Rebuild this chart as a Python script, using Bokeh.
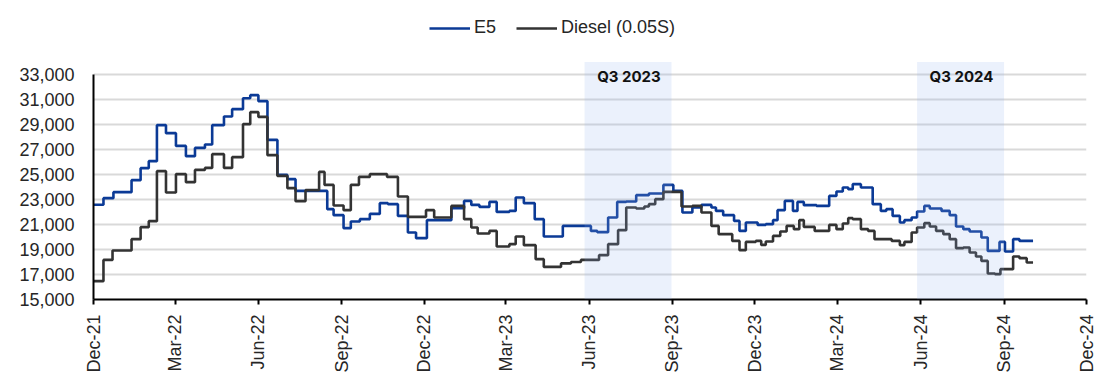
import math
import pandas as pd
from bokeh.plotting import figure
from bokeh.models import (BoxAnnotation, Label, Legend, LegendItem, FixedTicker,
                          DatetimeTickFormatter, NumeralTickFormatter, Range1d)
from bokeh.embed import file_html
from bokeh.resources import INLINE

# ---------------- data ----------------
e5_dates = ["2021-12-01", "2021-12-12", "2021-12-23",
            "2022-01-12", "2022-01-22", "2022-01-31", "2022-02-09", "2022-02-19", "2022-03-02",
            "2022-03-13", "2022-03-23", "2022-04-03", "2022-04-11", "2022-04-24", "2022-05-03",
            "2022-05-15", "2022-05-23", "2022-06-01", "2022-06-11", "2022-06-22", "2022-07-03",
            "2022-07-12", "2022-08-16", "2022-08-23", "2022-09-03", "2022-09-11", "2022-09-21",
            "2022-10-02", "2022-10-13", "2022-10-22", "2022-11-02", "2022-11-13", "2022-11-22",
            "2022-12-04", "2022-12-31",
            "2023-01-14", "2023-01-22", "2023-01-31", "2023-02-11", "2023-02-19", "2023-03-05",
            "2023-03-12", "2023-03-21", "2023-04-02", "2023-04-12", "2023-05-03", "2023-06-03",
            "2023-06-10", "2023-06-22", "2023-07-02", "2023-07-12", "2023-07-23", "2023-08-06",
            "2023-08-22", "2023-09-02", "2023-09-12", "2023-09-23", "2023-10-03", "2023-10-14",
            "2023-10-19", "2023-10-27", "2023-11-08", "2023-11-14", "2023-11-21", "2023-12-04",
            "2023-12-13", "2023-12-21", "2023-12-26",
            "2024-01-03", "2024-01-12", "2024-01-17", "2024-01-24", "2024-02-07", "2024-02-21",
            "2024-02-29", "2024-03-07", "2024-03-13", "2024-03-18", "2024-03-27", "2024-04-09",
            "2024-04-18", "2024-04-24", "2024-05-01", "2024-05-09", "2024-05-14", "2024-05-22",
            "2024-05-28", "2024-06-05", "2024-06-11", "2024-06-24", "2024-07-03", "2024-07-10",
            "2024-07-18", "2024-07-25", "2024-08-07", "2024-08-14", "2024-08-27", "2024-09-02",
            "2024-09-11", "2024-09-18", "2024-10-03"]
e5_values = [22580, 23110, 23590,
             24550, 25510, 26070, 28950, 28310, 27290,
             26470, 27130, 27400, 28950, 29640, 30230,
             31100, 31350, 30870, 27770, 24970, 24630,
             23690, 22230, 21750, 20710, 21240, 21430,
             21850, 22710, 22630, 21690, 20360, 19910,
             21350, 22310,
             22890, 22570, 22410, 22810, 22010, 22090,
             23160, 22710, 21430, 20040, 20890, 20490,
             20390, 21560, 22810, 22840, 23350, 23480,
             24170, 23690, 21960, 22360, 22570, 22360,
             22090, 21750, 21290, 20490, 21160, 20970,
             21030, 21350, 22150,
             22890, 22090, 22810, 22550, 22490, 23290,
             23640, 23960, 23830, 24230, 23960, 22630,
             22090, 22230, 21690, 21160, 21350, 21560,
             22040, 22490, 22280, 22090, 21750, 20840,
             20630, 20440, 19960, 18890, 19610, 18840,
             19830, 19690, 19690]

diesel_dates = ["2021-12-01", "2021-12-12", "2021-12-22",
                "2022-01-12", "2022-01-22", "2022-01-31", "2022-02-09", "2022-02-19", "2022-03-02",
                "2022-03-13", "2022-03-23", "2022-04-03", "2022-04-11", "2022-04-24", "2022-05-03",
                "2022-05-15", "2022-05-23", "2022-06-01", "2022-06-11", "2022-06-22", "2022-07-03",
                "2022-07-12", "2022-07-23", "2022-08-07", "2022-08-13", "2022-08-23", "2022-09-03",
                "2022-09-11", "2022-09-20", "2022-10-02", "2022-10-21", "2022-11-02", "2022-11-13",
                "2022-12-03", "2022-12-12", "2022-12-31",
                "2023-01-14", "2023-01-22", "2023-01-29", "2023-02-11", "2023-02-19", "2023-03-05",
                "2023-03-12", "2023-03-21", "2023-04-03", "2023-04-12", "2023-05-01", "2023-05-12",
                "2023-05-23", "2023-06-12", "2023-06-22", "2023-07-03", "2023-07-12", "2023-07-23",
                "2023-08-01", "2023-08-06", "2023-08-13", "2023-08-22", "2023-09-11", "2023-09-23",
                "2023-10-03", "2023-10-14", "2023-10-22", "2023-11-06", "2023-11-14", "2023-11-21",
                "2023-12-02", "2023-12-08", "2023-12-13", "2023-12-21", "2023-12-29",
                "2024-01-05", "2024-01-13", "2024-01-19", "2024-01-24", "2024-02-05", "2024-02-21",
                "2024-02-29", "2024-03-07", "2024-03-13", "2024-03-18", "2024-03-27", "2024-04-04",
                "2024-04-11", "2024-04-30", "2024-05-09", "2024-05-14", "2024-05-22", "2024-05-28",
                "2024-06-05", "2024-06-11", "2024-06-18", "2024-06-26", "2024-07-03", "2024-07-10",
                "2024-07-18", "2024-07-25", "2024-08-01", "2024-08-07", "2024-08-14", "2024-08-22",
                "2024-08-28", "2024-09-11", "2024-09-18", "2024-09-26", "2024-10-03"]
diesel_values = [16470, 18170, 18920,
                 19830, 20790, 21270, 25270, 23560, 25030,
                 24390, 25370, 25530, 26630, 25530, 26390,
                 29030, 29990, 29610, 26550, 24890, 23910,
                 22870, 23750, 25210, 24170, 22520, 22150,
                 24170, 24810, 25030, 24810, 23240, 21610,
                 22150, 21560, 22490,
                 21430, 20760, 20280, 20490, 19240, 19430,
                 20040, 19350, 18230, 17610, 17890, 18000,
                 18170, 18550, 19430, 20550, 22360, 22280,
                 22440, 22630, 23030, 23610, 22440, 22490,
                 21960, 20890, 20230, 19690, 18950, 19610,
                 19690, 19370, 19640, 20090, 20440,
                 20890, 20630, 21350, 20810, 20490, 20970,
                 20630, 21080, 21510, 21430, 20630, 20490,
                 19830, 19690, 19350, 19610, 20360, 20760,
                 21110, 20840, 20490, 20230, 19830, 19110,
                 19160, 18760, 18440, 18090, 17080, 17030,
                 17430, 18440, 18310, 17960, 17960]

series_names = ["E5", "Diesel (0.05S)"]
shade_labels = ["Q3 2023", "Q3 2024"]
shade_starts = ["2023-05-27", "2024-05-28"]
shade_ends = ["2023-08-31", "2024-09-01"]
shade_label_pos = ["2023-07-15", "2024-07-16"]
y_ticks = list(range(15000, 33001, 2000))
x_tick_dates = ["2021-12-01", "2022-03-01", "2022-06-01", "2022-09-01", "2022-12-01",
                "2023-03-01", "2023-06-01", "2023-09-01", "2023-12-01", "2024-03-01",
                "2024-06-01", "2024-09-01", "2024-12-01"]

assert len(e5_dates) == len(e5_values)
assert len(diesel_dates) == len(diesel_values)

# ---------------- figure ----------------
FONT = "Liberation Sans"
TOP_BORDER = 4
FRAME_H = 295                       # px from frame top to the 15,000 line
Y_TOP = 15000 + FRAME_H * 80        # 12.5 px per 1,000 as in the reference

p = figure(width=1102, height=385, x_axis_type="datetime",
           x_range=Range1d(pd.Timestamp("2021-12-01"), pd.Timestamp("2024-12-01")),
           y_range=Range1d(15000, Y_TOP),
           output_backend="svg", toolbar_location=None,
           min_border_left=93, min_border_right=16, min_border_top=TOP_BORDER,
           min_border_bottom=385 - TOP_BORDER - FRAME_H)
p.outline_line_color = None
p.background_fill_color = "white"
p.border_fill_color = "white"

r_e5 = p.step(pd.to_datetime(e5_dates), e5_values, mode="after",
              line_color="#0b3a96", line_width=2.6)
r_d = p.step(pd.to_datetime(diesel_dates), diesel_values, mode="after",
             line_color="#333333", line_width=2.6)

for s, e in zip(shade_starts, shade_ends):
    p.add_layout(BoxAnnotation(left=pd.Timestamp(s), right=pd.Timestamp(e),
                               bottom=15000, top=34000, fill_color="#8fb4f0", fill_alpha=0.18,
                               line_color=None, level="annotation"))
for lbl, pos in zip(shade_labels, shade_label_pos):
    p.add_layout(Label(x=pd.Timestamp(pos), y=32840, text=lbl, text_align="center",
                       text_baseline="middle", text_font="Inter", text_font_style="bold",
                       text_font_size="15px", text_color="#111111"))

# axes
p.xgrid.visible = False
p.ygrid.grid_line_color = "#d9d9d9"
p.ygrid.grid_line_width = 2
p.yaxis.ticker = FixedTicker(ticks=y_ticks)
p.ygrid.ticker = FixedTicker(ticks=y_ticks)
p.yaxis.formatter = NumeralTickFormatter(format="0,0")
p.yaxis.bounds = (15000, 33000)
p.yaxis.axis_line_width = 2
p.yaxis.axis_line_color = "black"
p.yaxis.major_tick_line_color = None
p.yaxis.minor_tick_line_color = None
p.yaxis.major_tick_in = 0
p.yaxis.major_tick_out = 0
p.yaxis.major_label_standoff = 19
p.yaxis.major_label_text_font = FONT
p.yaxis.major_label_text_font_size = "18px"
p.yaxis.major_label_text_color = "#262626"

p.xaxis.ticker = FixedTicker(ticks=[pd.Timestamp(d).value // 10**6 for d in x_tick_dates])
fmt = "%b-%y"
p.xaxis.formatter = DatetimeTickFormatter(milliseconds=fmt, seconds=fmt, minsec=fmt, minutes=fmt,
                                          hourmin=fmt, hours=fmt, days=fmt, months=fmt, years=fmt)
p.xaxis.major_label_orientation = math.pi / 2
p.xaxis.axis_line_width = 2
p.xaxis.axis_line_color = "black"
p.xaxis.major_tick_line_width = 2
p.xaxis.major_tick_line_color = "black"
p.xaxis.major_tick_in = 0
p.xaxis.major_tick_out = 5
p.xaxis.minor_tick_line_color = None
p.xaxis.major_label_standoff = 10
p.xaxis.major_label_text_font = FONT
p.xaxis.major_label_text_font_size = "18px"
p.xaxis.major_label_text_color = "#262626"

legend = Legend(items=[LegendItem(label=series_names[0], renderers=[r_e5]),
                       LegendItem(label=series_names[1], renderers=[r_d])],
                orientation="horizontal", location=(336, 261),
                glyph_width=41, glyph_height=20, label_height=20, label_standoff=4,
                spacing=20, padding=0, margin=0, border_line_color=None,
                background_fill_alpha=0, label_text_font=FONT,
                label_text_font_size="18px", label_text_color="#262626")
p.add_layout(legend)

open("out.html", "w").write(file_html(p, INLINE))
